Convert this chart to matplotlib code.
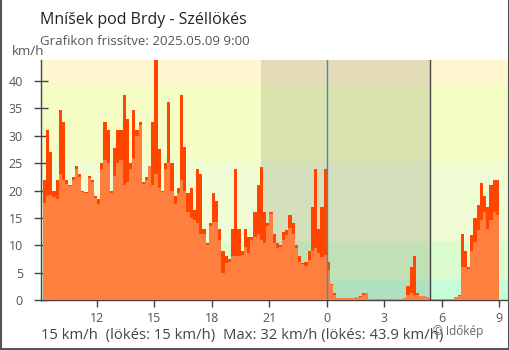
import numpy as np
import matplotlib
matplotlib.use("Agg")
import matplotlib.pyplot as plt

plt.rcParams['font.family'] = ['Open Sans', 'DejaVu Sans']

# 10 minute readings, first one at 9:10 the day before
start = 9 + 10 / 60
step = 10 / 60

wind = [17.7, 19, 19.2, 18.8, 18.5, 23, 22, 21.2, 20.8, 22,
        24, 22.5, 19.7, 19.5, 22.3, 21.5, 18.6, 17.5, 24, 25.6,
        25, 19.5, 22.6, 25, 25.5,
        21, 21.5, 24, 26, 30, 32, 21.2, 22, 24.5, 21,
        23, 20.5, 19.7, 24, 25, 20, 17.5, 19.5, 22, 20,
        16, 15, 14.6, 14, 12,
        12, 10, 13.5, 14.3, 14.3, 11, 5, 6.8, 7, 8,
        8, 8, 8.3, 9.7, 8.5, 11, 11.5, 12, 11, 10.5,
        13.5, 15.8, 10.5, 9.5, 9.7,
        11, 11.8, 13.1, 12, 9.5, 7, 6.5, 6.2, 7.3, 9,
        9.5, 8.5, 7.8, 8.3, 5.5, 2.7, 1, 0.3, 0.3, 0.3,
        0.3, 0.3, 0.3, 0.5, 0.6,
        1.0, 1.2, 0.2, 0.2, 0.2, 0.2, 0.2, 0.2, 0.2, 0.2,
        0.2, 0.2, 0.2, 0.3, 1, 1.3, 1, 1, 0.8, 0.7,
        0.6, 0.2, 0.2, 0.2, 0.2, 0.2,
        0.2, 0.2, 0.2, 0.5, 0.8, 6, 6, 5.6, 9, 10.6,
        12.7, 14.6, 16, 13, 14.6, 16, 15.5]

gust = [22, 31, 27, 20, 22, 34.8, 32.6, 22, 21, 22.5,
        24.5, 23, 20, 19.8, 22.6, 22, 19, 18.5, 25, 32.6,
        31, 20, 27.7, 31, 31,
        37.4, 33, 25, 34.8, 31, 32.5, 21.5, 22.5, 24.5, 32.6,
        43.9, 27.5, 20, 25, 36.2, 25, 19, 20.5, 37.4, 28,
        19.5, 20.5, 16.5, 24, 23,
        13, 10.5, 14, 19.5, 18, 13, 9, 8, 7.5, 13,
        24, 13, 9, 13, 11.5, 11.5, 16, 21, 24.3, 16,
        14, 16, 12, 10.5, 10,
        12.5, 12.8, 15.6, 14, 10, 8, 6.8, 7, 9, 17,
        24, 13, 17, 24, 7, 3, 1.3, 0.3, 0.3, 0.3,
        0.3, 0.3, 0.3, 0.5, 0.8,
        1.3, 1.3, 0.2, 0.2, 0.2, 0.2, 0.2, 0.2, 0.2, 0.2,
        0.2, 0.2, 0.2, 0.3, 2.5, 6, 8, 1.2, 0.8, 0.7,
        0.6, 0.2, 0.2, 0.2, 0.2, 0.2,
        0.2, 0.2, 0.2, 0.5, 1, 12, 9, 6, 11.8, 15,
        17.3, 21.3, 19, 17, 21, 22, 22]

tick_pos = [12, 15, 18, 21, 24, 27, 30, 33]
tick_lab = ['12', '15', '18', '21', '0', '3', '6', '9']

# background bands (1, 3, 7, 11 m/s in km/h)
band_edges = [0, 3.6, 10.8, 25.2, 39.6, 50]
band_colors = ['#c6fcd8', '#dbfccd', '#effcd4', '#f5fdc5', '#fff7cf']

night_start = 20.56
sunrise = 29.42
midnight = 24

edges = start + step * np.arange(len(wind) + 1)

fig = plt.figure(figsize=(5.1, 3.5), dpi=100)
ax = fig.add_axes([41 / 510, 50 / 350, 467 / 510, 240 / 350])

for i in range(len(band_colors)):
    ax.axhspan(band_edges[i], band_edges[i + 1], color=band_colors[i], lw=0, zorder=0)
ax.axvspan(night_start, sunrise, color='black', alpha=0.11, lw=0, zorder=1)

ax.stairs(gust, edges, fill=True, color='#ff4500', lw=0, zorder=2)
ax.stairs(wind, edges, fill=True, color='#ff7f3f', lw=0, zorder=3)

ax.axvline(midnight, color='#3d8cc4', lw=1, zorder=4)
ax.axvline(sunrise, color='#444444', lw=1, zorder=4)

ax.set_xlim(9.07, 33.47)
ax.set_ylim(0, 43.85)
ax.set_xticks(tick_pos)
ax.set_xticklabels(tick_lab)
ax.set_yticks(range(0, 45, 5))
ax.tick_params(axis='y', direction='inout', length=10, width=1, color='#444444',
               labelcolor='#555555', labelsize=9, pad=8)
ax.tick_params(axis='x', direction='out', length=5, width=1, color='#444444',
               labelcolor='#555555', labelsize=9, pad=4)
for s in ['top', 'right']:
    ax.spines[s].set_visible(False)
for s in ['left', 'bottom']:
    ax.spines[s].set_color('#444444')
    ax.spines[s].set_linewidth(1)

fig.text(40 / 510, 1 - 23.5 / 350, 'Mníšek pod Brdy - Széllökés', fontsize=11.5,
         color='#222222', va='baseline')
fig.text(40 / 510, 1 - 45 / 350, 'Grafikon frissítve: 2025.05.09 9:00', fontsize=9.5,
         color='#555555', va='baseline')
fig.text(12 / 510, 1 - 55 / 350, 'km/h', fontsize=9.5, color='#555555', va='baseline')
fig.text(41 / 510, 1 - 339 / 350,
         '15 km/h  (lökés: 15 km/h)  Max: 32 km/h (lökés: 43.9 km/h)',
         fontsize=10.7, color='#444444', va='baseline')
fig.text(433 / 510, 1 - 335 / 350, '© Időkép', fontsize=8.5, color='#666666', va='baseline')

# frame round the picture
fig.add_artist(plt.Line2D([0.001, 0.001], [0, 1], color='#555555', lw=1.5))
fig.add_artist(plt.Line2D([0.999, 0.999], [0, 1], color='#555555', lw=1.5))
fig.add_artist(plt.Line2D([0, 1], [0.002, 0.002], color='#555555', lw=1.5))

fig.savefig('out.png', dpi=100)
